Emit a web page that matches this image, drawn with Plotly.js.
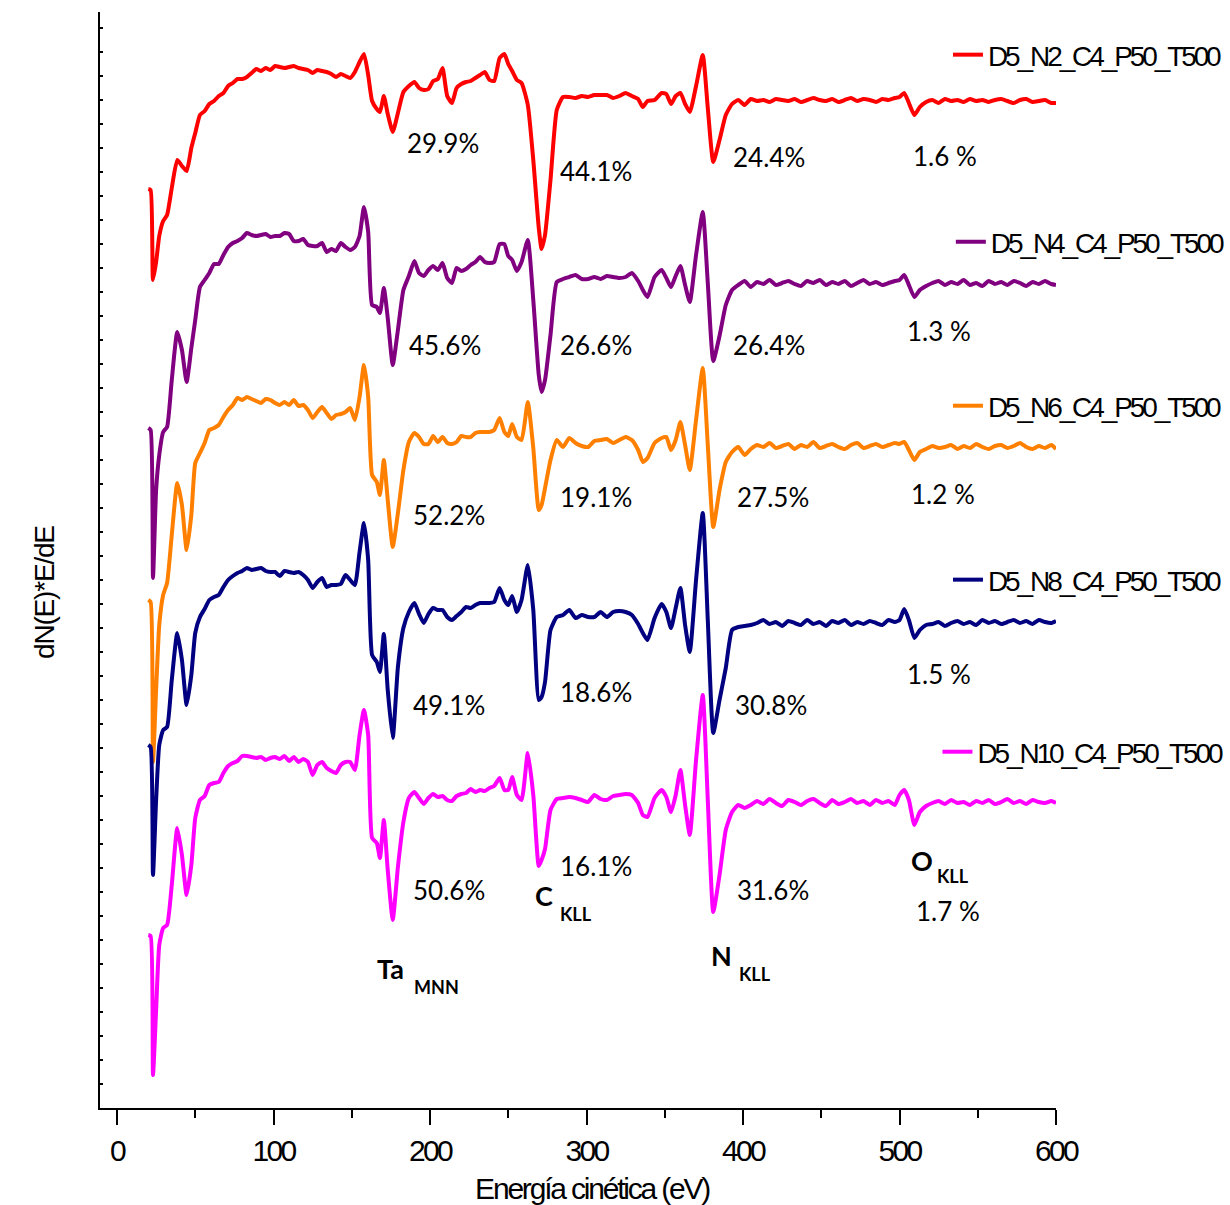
<!DOCTYPE html>
<html>
<head>
<meta charset="utf-8">
<script src="https://cdn.plot.ly/plotly-3.0.1.min.js"></script>
<style>
  html, body { margin: 0; padding: 0; background: #fff; }
  #chart { width: 1230px; height: 1205px; }
  /* condensed look for the axis lettering */
  #chart .xtick text { letter-spacing: -2.6px; }
  #chart .annotation[data-index="28"] text { letter-spacing: -2.2px; }
  #chart .annotation[data-index="29"] text { letter-spacing: -1.2px; }
</style>
</head>
<body>
<div id="chart"></div>
<script>
// Kinetic energy grid (eV) shared by all five Auger spectra
const energy = [20,21.5,23,25,27,29.5,32,35,38.5,41.5,44.5,47.5,50,53,56,59,62,65,68,71,74,77,80,83,86,89,92,95,98,101,104,107,110,113,116,119,122,125,128,131,134,137,140,143,146,149,152,155,157.8,160.5,163,166,168,170.5,173,176.2,179.5,183,186.5,190,193,196,199,202,205,208,211,214,217,220,223,226,229,232,235,238,241,244.5,247.5,250,252.5,255.5,258.5,262.5,266,269.5,271.3,273.5,277,281,285,289,293,297,301,305,309,313,317,321,325,329,333,336,339,343.5,348,351,354,357,360,363,366,370,374.3,377.5,381,385,389,393,397,401,405,409,413,417,421,425,429,433,437,441,445,449,453,457,461,465,469,473,477,481,485,489,493,497,500,503,506,509.5,513,517,521,525,529,533,537,541,545,549,553,557,561,565,569,573,577,581,585,589,593,597,600];

// dN(E)*E/dE, arbitrary units (vertically stacked spectra)
const specN2 = [-189,-190,-280,-262,-236,-221,-215,-188,-160,-166,-171,-148,-133,-115,-111,-104,-101,-96,-93,-86,-83,-79,-79,-77,-73,-69,-71,-68,-70,-66,-67,-68,-67,-66,-68,-69,-70,-73,-70,-71,-72,-74,-77,-74,-76,-78,-72,-62,-54,-75,-101,-109,-112,-96,-114,-132,-113,-92,-86,-82,-88,-90,-89,-81,-79,-68,-96,-103,-88,-84,-82,-81,-78,-75,-72,-80,-81,-58,-54,-64,-71,-80,-83,-105,-160,-228,-249,-235,-180,-110,-97,-97,-98,-96,-97,-95,-95,-95,-98,-96,-93,-96,-99,-107,-101,-100,-93,-94,-104,-96,-93,-104,-112,-86,-55,-108,-162,-140,-115,-104,-100,-105,-99,-101,-100,-102,-99,-100,-101,-99,-102,-100,-98,-100,-101,-99,-102,-100,-98,-101,-99,-100,-102,-99,-100,-98,-97,-93,-103,-115,-107,-102,-100,-103,-99,-101,-100,-102,-99,-101,-100,-102,-100,-99,-101,-103,-100,-99,-102,-101,-100,-103,-103];

const specN4 = [-428,-430,-578,-490,-455,-432,-427,-380,-332,-350,-382,-348,-320,-287,-280,-273,-264,-264,-255,-247,-243,-241,-238,-233,-235,-236,-235,-234,-237,-236,-236,-233,-234,-241,-241,-239,-245,-246,-246,-243,-252,-249,-251,-243,-247,-250,-247,-236,-207,-232,-305,-307,-313,-288,-318,-365,-330,-290,-276,-261,-273,-276,-270,-266,-270,-263,-278,-283,-268,-271,-269,-265,-262,-257,-262,-263,-262,-244,-244,-256,-260,-271,-262,-240,-300,-375,-392,-380,-335,-282,-279,-277,-275,-279,-279,-277,-279,-276,-277,-278,-277,-273,-281,-290,-297,-277,-270,-278,-287,-276,-266,-285,-302,-255,-212,-283,-361,-336,-305,-290,-285,-281,-287,-282,-284,-280,-285,-283,-281,-284,-286,-281,-283,-280,-285,-282,-284,-281,-286,-283,-280,-284,-282,-285,-283,-281,-280,-275,-285,-297,-290,-286,-283,-281,-285,-282,-284,-280,-285,-283,-286,-281,-284,-282,-285,-281,-283,-286,-282,-284,-281,-284,-285];

const specN6 = [-600,-602,-762,-690,-625,-595,-583,-535,-483,-505,-550,-515,-463,-453,-443,-430,-428,-425,-417,-410,-405,-398,-400,-397,-399,-401,-403,-399,-400,-403,-405,-402,-405,-400,-406,-405,-410,-418,-412,-407,-413,-419,-415,-414,-412,-408,-420,-397,-365,-397,-475,-482,-495,-460,-500,-547,-513,-470,-442,-433,-437,-444,-444,-436,-442,-437,-443,-444,-442,-436,-437,-437,-433,-432,-432,-432,-430,-418,-432,-436,-424,-437,-440,-402,-448,-510,-505,-488,-460,-440,-447,-438,-443,-446,-447,-441,-440,-439,-443,-440,-437,-440,-450,-462,-458,-443,-438,-437,-450,-440,-422,-445,-470,-420,-368,-445,-527,-490,-462,-452,-447,-455,-449,-445,-447,-443,-448,-446,-444,-449,-445,-447,-442,-448,-446,-444,-447,-449,-445,-443,-448,-446,-444,-447,-445,-443,-444,-442,-450,-460,-452,-449,-446,-448,-447,-445,-449,-446,-448,-444,-447,-449,-446,-445,-448,-446,-443,-447,-449,-446,-448,-445,-449];

const specN8 = [-745,-747,-875,-800,-745,-730,-727,-680,-633,-660,-705,-675,-633,-617,-609,-600,-597,-595,-587,-580,-576,-573,-571,-568,-570,-569,-568,-571,-572,-572,-576,-571,-572,-573,-572,-575,-580,-588,-582,-578,-587,-585,-585,-584,-575,-580,-585,-552,-523,-560,-655,-662,-672,-634,-690,-738,-667,-628,-612,-603,-614,-623,-614,-608,-610,-610,-617,-620,-616,-612,-607,-608,-605,-603,-603,-603,-602,-588,-600,-605,-596,-612,-600,-565,-610,-700,-697,-682,-630,-617,-615,-610,-618,-615,-617,-617,-612,-617,-612,-611,-612,-615,-624,-633,-640,-618,-604,-612,-628,-608,-588,-625,-652,-580,-513,-620,-733,-700,-668,-630,-627,-626,-625,-623,-620,-624,-622,-626,-621,-623,-625,-620,-624,-622,-626,-621,-623,-620,-625,-622,-624,-621,-623,-625,-620,-622,-620,-609,-620,-638,-630,-625,-624,-622,-626,-623,-621,-624,-622,-625,-620,-623,-621,-624,-622,-620,-623,-621,-624,-620,-622,-623,-621];

const specN10 = [-935,-936,-1075,-1010,-945,-928,-925,-885,-828,-855,-895,-865,-818,-800,-796,-785,-783,-782,-773,-766,-763,-761,-756,-756,-757,-758,-757,-760,-758,-757,-759,-756,-761,-757,-762,-759,-762,-775,-765,-762,-768,-771,-773,-765,-762,-762,-770,-735,-710,-735,-838,-843,-858,-820,-870,-920,-867,-822,-798,-792,-798,-804,-798,-794,-797,-796,-800,-801,-796,-794,-793,-789,-792,-790,-791,-788,-786,-778,-790,-790,-777,-795,-800,-753,-795,-866,-860,-849,-810,-799,-798,-797,-798,-800,-802,-795,-799,-800,-796,-795,-794,-795,-803,-815,-817,-798,-790,-797,-812,-795,-770,-805,-835,-760,-695,-800,-912,-875,-830,-812,-805,-808,-805,-801,-804,-799,-803,-806,-800,-802,-805,-801,-799,-803,-806,-800,-804,-802,-799,-803,-801,-805,-800,-803,-801,-805,-795,-790,-800,-825,-812,-806,-803,-801,-804,-800,-803,-802,-805,-801,-803,-800,-804,-802,-799,-803,-801,-804,-800,-802,-803,-801,-803];

const sampleNames = ['D5_N2_C4_P50_T500','D5_N4_C4_P50_T500','D5_N6_C4_P50_T500','D5_N8_C4_P50_T500','D5_N10_C4_P50_T500'];
const sampleColors = ['#FF0000','#800080','#FF8000','#000080','#FF00FF'];
const spectra = [specN2, specN4, specN6, specN8, specN10];

// Atomic composition per sample: Ta, C, N, O
const compTa = ['29.9%','45.6%','52.2%','49.1%','50.6%'];
const compC  = ['44.1%','26.6%','19.1%','18.6%','16.1%'];
const compN  = ['24.4%','26.4%','27.5%','30.8%','31.6%'];
const compO  = ['1.6 %','1.3 %','1.2 %','1.5 %','1.7 %'];

// Auger transitions
const peakElements = ['Ta','C','N','O'];
const peakShells = ['MNN','KLL','KLL','KLL'];

const xTitle = 'Energía cinética (eV)';
const yTitle = 'dN(E)*E/dE';

// ---- placement of the text labels (data coordinates) ----
const compPlace = {
  Ta: [[184.0,-143],[185.3,-345],[187.9,-515],[187.9,-705],[187.9,-890]],
  C:  [[281.8,-171],[281.8,-345],[281.8,-497],[281.8,-692],[281.8,-866]],
  N:  [[392.3,-157],[392.3,-345],[394.9,-497],[393.6,-705],[394.9,-890]],
  O:  [[507.3,-156],[503.5,-331],[506.1,-494],[503.5,-674],[509.3,-911]]
};
const elemPlace = [[164.9,-968],[265.8,-895],[378.3,-955],[506.1,-860]];
const shellPlace = [[188.5,-987],[281.8,-914],[396.2,-974],[522.7,-876]];
// legend anchor positions (paper coordinates)
const legendPlace = [[0.887,0.9608],[0.890,0.7901],[0.887,0.6405],[0.887,0.4818],[0.876,0.3248]];

const sansFont = 'Liberation Sans, Arial, sans-serif';
const textFont = 'Lato, Noto Sans, sans-serif';

const traces = spectra.map((s, i) => ({
  x: energy,
  y: s,
  type: 'scatter',
  mode: 'lines',
  name: sampleNames[i],
  line: { color: sampleColors[i], width: 4, shape: 'spline', smoothing: 0.5 },
  legend: i === 0 ? 'legend' : 'legend' + (i + 1),
  hoverinfo: 'skip'
}));

const annotations = [];
const compCols = [['Ta', compTa], ['C', compC], ['N', compN], ['O', compO]];
compCols.forEach(([el, vals]) => {
  vals.forEach((v, i) => {
    annotations.push({
      x: compPlace[el][i][0], y: compPlace[el][i][1], xref: 'x', yref: 'y',
      text: v, showarrow: false, xanchor: 'left', yanchor: 'middle',
      font: { family: textFont, size: 26, color: '#000' }
    });
  });
});
peakElements.forEach((el, k) => {
  annotations.push({
    x: elemPlace[k][0], y: elemPlace[k][1], xref: 'x', yref: 'y',
    text: '<b>' + el + '</b>', showarrow: false, xanchor: 'left', yanchor: 'middle',
    font: { family: textFont, size: 27, color: '#000' }
  });
  annotations.push({
    x: shellPlace[k][0], y: shellPlace[k][1], xref: 'x', yref: 'y',
    text: '<b>' + peakShells[k] + '</b>', showarrow: false, xanchor: 'left', yanchor: 'middle',
    font: { family: textFont, size: 18, color: '#000' }
  });
});
// axis titles
annotations.push({
  x: 0.5146, y: -0.073, xref: 'paper', yref: 'paper', text: xTitle, showarrow: false,
  xanchor: 'center', yanchor: 'middle', font: { family: sansFont, size: 30, color: '#000' }
});
annotations.push({
  x: -0.0575, y: 0.47, xref: 'paper', yref: 'paper', text: yTitle, showarrow: false,
  textangle: -90, xanchor: 'center', yanchor: 'middle', font: { family: sansFont, size: 28, color: '#000' }
});

const layout = {
  width: 1230,
  height: 1205,
  margin: { l: 100, r: 174, t: 12, b: 97, autoexpand: false },
  paper_bgcolor: '#fff',
  plot_bgcolor: '#fff',
  showlegend: true,
  xaxis: {
    range: [-10.86, 600],
    showgrid: false,
    zeroline: false,
    showline: true,
    linecolor: '#000',
    linewidth: 2,
    ticks: 'outside',
    ticklen: 15,
    tickwidth: 2,
    tickcolor: '#000',
    dtick: 100,
    tick0: 0,
    minor: { dtick: 50, ticks: 'outside', ticklen: 8, tickwidth: 2, tickcolor: '#000' },
    tickfont: { family: sansFont, size: 30, color: '#000' }
  },
  yaxis: {
    range: [-1108, -12],
    showgrid: false,
    zeroline: false,
    showline: true,
    linecolor: '#000',
    linewidth: 2,
    ticks: 'inside',
    ticklen: 3,
    tickwidth: 1.5,
    tickcolor: '#000',
    dtick: 24,
    tick0: -1108,
    showticklabels: false
  },
  annotations: annotations
};

legendPlace.forEach((p, i) => {
  const key = i === 0 ? 'legend' : 'legend' + (i + 1);
  layout[key] = {
    x: p[0], y: p[1], xref: 'paper', yref: 'paper',
    xanchor: 'left', yanchor: 'middle',
    bgcolor: 'rgba(0,0,0,0)', borderwidth: 0,
    font: { family: sansFont, size: 28, color: '#000' },
    itemwidth: 30
  };
});

Plotly.newPlot('chart', traces, layout, { displayModeBar: false, staticPlot: true }).then(gd => {
  // condense the legend entries and lift any clipping on them
  gd.querySelectorAll('text').forEach(t => {
    if (sampleNames.includes(t.textContent)) {
      t.style.letterSpacing = '-3.1px';
      let g = t.parentNode;
      while (g && g !== gd) {
        if (g.getAttribute && g.getAttribute('clip-path')) g.removeAttribute('clip-path');
        g = g.parentNode;
      }
    }
  });
});
</script>
</body>
</html>
